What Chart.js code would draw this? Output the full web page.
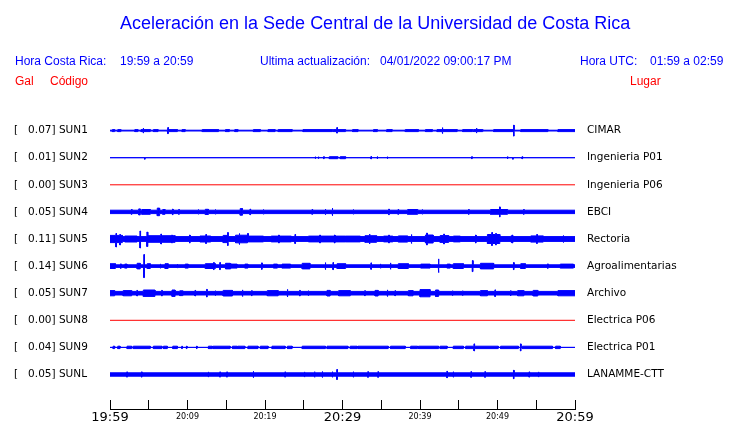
<!DOCTYPE html>
<html>
<head>
<meta charset="utf-8">
<script src="https://cdn.jsdelivr.net/npm/chart.js@4/dist/chart.umd.min.js"></script>
<style>
  body { margin: 0; background: #fff; }
  #wrap { position: relative; width: 740px; height: 423px; overflow: hidden; }
  #wrap canvas { position: absolute; left: 0; top: 0; }
  .t { position: absolute; white-space: pre; font-family: "Liberation Sans", Arial, sans-serif; font-size: 12px; line-height: 12px; color: #0000ff; }
  .red { color: #ff0000; }
  #title { font-size: 18px; line-height: 18px; left: 120px; top: 14px; }
</style>
</head>
<body>
<div id="wrap">
  <canvas id="chart" width="740" height="423"></canvas>
  <div class="t" id="title">Aceleración en la Sede Central de la Universidad de Costa Rica</div>
  <div class="t" style="left:15px;top:55px">Hora Costa Rica:</div>
  <div class="t" style="left:120px;top:55px">19:59 a 20:59</div>
  <div class="t" style="left:260px;top:55px">Ultima actualización:</div>
  <div class="t" style="left:380px;top:55px">04/01/2022 09:00:17 PM</div>
  <div class="t" style="left:580px;top:55px">Hora UTC:</div>
  <div class="t" style="left:650px;top:55px">01:59 a 02:59</div>
  <div class="t red" style="left:15px;top:75px">Gal</div>
  <div class="t red" style="left:50px;top:75px">Código</div>
  <div class="t red" style="left:630px;top:75px">Lugar</div>
</div>
<script>
// stations, top to bottom
const codes = ['SUN1', 'SUN2', 'SUN3', 'SUN4', 'SUN5', 'SUN6', 'SUN7', 'SUN8', 'SUN9', 'SUNL'];
const peakGal = [0.07, 0.01, 0.00, 0.05, 0.11, 0.14, 0.05, 0.00, 0.04, 0.05];
const places = ['CIMAR', 'Ingenieria P01', 'Ingenieria P06', 'EBCI', 'Rectoria',
  'Agroalimentarias', 'Archivo', 'Electrica P06', 'Electrica P01', 'LANAMME-CTT'];

// time axis, minutes after 19:59
const tickMinutes = [0, 5, 10, 15, 20, 25, 30, 35, 40, 45, 50, 55, 60];
const tickLabels = ['19:59', '', '20:09', '', '20:19', '', '20:29', '', '20:39', '', '20:49', '', '20:59'];

// trace envelopes: background level, bursts [from, to, amp], spikes [minute, up, down]
const baseAmp = [0.4, 0, 0, 1.7, 2.4, 1.3, 1.8, 0, 0, 1.7];

const sun1Bursts = [[0.3, 0.6, 1], [1.0, 1.4, 1], [3.2, 3.6, 1], [4.0, 5.2, 1], [5.6, 6.2, 1],
  [7.4, 8.7, 1], [9.3, 9.7, 1], [11.9, 14.0, 1], [14.9, 15.4, 1], [16.1, 16.5, 1],
  [18.5, 19.4, 1], [20.4, 21.3, 1], [21.7, 23.5, 1], [24.9, 28.7, 1], [28.8, 30.4, 1],
  [31.3, 32.0, 1], [34.0, 34.5, 1], [35.7, 36.4, 1], [38.1, 39.8, 1], [40.7, 41.6, 1],
  [42.2, 44.8, 1], [45.5, 46.8, 1], [46.9, 48.1, 1], [49.5, 52.1, 1], [53.0, 56.5, 1],
  [57.8, 60, 1]];
const sun1Spikes = [[4.3, 2.5, 2.5], [7.5, 3, 3], [29.3, 3, 2.5], [42.9, 3, 3], [47.3, 2.5, 2.5], [52.1, 5.5, 5.5]];

const sun2Bursts = [[28.3, 29.4, 1], [29.7, 30.4, 1]];
const sun2Spikes = [[4.5, 0, 1.5], [26.5, 1, 1], [26.9, 1, 1], [27.6, 1, 1], [33.7, 1.2, 1.2],
  [34.5, 1.2, 1.2], [35.8, 1, 1], [46.7, 1, 1], [51.3, 1.2, 1.2], [52.0, 0, 1.5], [53.2, 1, 1]];

const sun4Bursts = [[3.7, 3.9, 3], [4.1, 5.2, 2.4], [6.1, 6.4, 3.8], [6.8, 7.1, 2.4], [12.3, 12.7, 2.6],
  [16.8, 17.1, 3.3], [38.4, 39.7, 2.4], [49.1, 51.3, 2.4]];
const sun4Spikes = [[2.8, 2.4, 2.4], [8.1, 2.8, 2.8], [8.9, 2.4, 2.4], [11.4, 2.4, 2.4], [13.6, 2.4, 2.4],
  [18.1, 2.8, 2.8], [19.8, 2.4, 2.4], [26.1, 2.4, 2.4], [27.8, 2.8, 2.8], [28.7, 3.8, 3.8], [31.4, 2.4, 2.4],
  [36.0, 2.8, 2.8], [37.2, 2.4, 2.4], [40.3, 2.4, 2.4], [46.3, 2.4, 2.4], [50.3, 5, 5], [53.4, 2.4, 2.4]];

const sun5Bursts = [[0, 1.6, 3.6], [1.9, 3.5, 3], [4.9, 8.4, 3.3], [11.6, 13.0, 3],
  [14.6, 15.2, 3.6], [16.2, 17.7, 3.8], [17.7, 19.8, 2.9], [20.8, 23.4, 2.9], [25.6, 30.4, 2.9],
  [30.4, 32.3, 2.9], [32.9, 34.4, 3.3], [35.3, 36.5, 2.9], [37.2, 38.4, 3.1], [40.7, 41.7, 4],
  [42.6, 43.7, 3.4], [44.3, 45.2, 2.9], [48.7, 50.3, 4.5], [51.7, 52.1, 2.9], [54.3, 55.9, 3.1]];
const sun5Spikes = [[0.8, 5.5, 8], [1.3, 4.5, 6], [3.9, 8, 9], [4.8, 7, 7.5], [6.6, 5, 5], [8.0, 4, 4],
  [10.3, 4, 4], [12.4, 4.5, 4.5], [15.2, 6.5, 6.5], [16.7, 5.5, 5.5], [17.8, 5.5, 3], [21.8, 4, 4],
  [23.9, 4.5, 4.5], [27.1, 4, 4], [29.0, 4, 4], [33.5, 5, 5], [36.0, 4, 4], [38.9, 4.5, 4.5],
  [40.9, 6, 6], [43.1, 5, 5], [47.2, 4, 4], [49.3, 6.5, 6.5], [49.8, 5.5, 6], [51.9, 4, 4],
  [55.1, 4.5, 4.5], [58.5, 3.5, 3.5]];

const sun6Bursts = [[0, 0.7, 2.4], [1.9, 2.2, 2], [3.5, 3.9, 2.8], [4.8, 5.2, 2.4], [7.1, 7.5, 2.4],
  [9.7, 10.1, 2], [12.3, 13.6, 2.4], [14.9, 15.5, 2.8], [15.6, 16.4, 2], [17.4, 17.8, 2],
  [21.1, 21.6, 2], [22.2, 23.3, 2], [24.8, 25.8, 2.8], [29.3, 30.4, 2.4], [37.2, 38.5, 2.4],
  [40.1, 41.3, 2], [43.5, 43.9, 2], [44.3, 45.6, 2.4], [47.8, 49.5, 2.8], [53.0, 53.6, 2.4],
  [58.1, 59.8, 2]];
const sun6Spikes = [[1.4, 2.2, 2.2], [4.4, 11.5, 11.5], [6.5, 2.2, 2.2], [8.7, 2, 2], [13.4, 3.5, 3.5],
  [14.2, 3.5, 3.5], [19.6, 3.2, 3.2], [27.8, 3.5, 3.5], [28.8, 3.5, 3.5], [33.7, 3.2, 3.2], [34.9, 2.2, 2.2],
  [36.2, 3.2, 3.2], [42.4, 7.2, 6.5], [46.8, 5.5, 5.5], [52.1, 3.5, 3.5], [56.5, 2.2, 2.2]];

const sun7Bursts = [[0, 0.6, 2.6], [1.7, 2.8, 2.6], [4.3, 5.8, 3.2], [8.0, 8.4, 3.2], [9.0, 9.4, 2.4],
  [14.6, 15.8, 2.8], [20.3, 21.7, 2.6], [28.0, 28.4, 2.8], [29.5, 31.0, 2.6], [34.2, 34.6, 2.8],
  [38.5, 39.1, 2.6], [40.0, 41.3, 3.6], [42.0, 42.4, 3.2], [47.8, 48.7, 2.6], [52.6, 53.4, 2.6],
  [54.6, 55.2, 2.8], [57.8, 60, 2.6]];
const sun7Spikes = [[3.5, 2.8, 2.8], [6.7, 2.8, 2.8], [11.0, 2.8, 2.8], [12.5, 3.8, 3.8], [13.6, 2.5, 2.5],
  [17.1, 3.3, 3.3], [18.3, 2.5, 2.5], [22.9, 3.8, 3.8], [24.5, 2.8, 2.8], [25.6, 2.5, 2.5], [32.9, 2.5, 2.5],
  [35.8, 3.3, 3.3], [36.8, 2.5, 2.5], [44.2, 2.5, 2.5], [45.5, 2.5, 2.5], [49.7, 3.3, 3.3], [51.7, 2.8, 2.8]];

const sun9Bursts = [[0.4, 0.6, 1.2], [1.0, 1.3, 1.2], [2.2, 2.8, 1.2], [3.0, 5.2, 1.2], [5.6, 6.7, 1.2],
  [6.9, 7.4, 1.2], [8.1, 8.7, 1.2], [12.7, 13.2, 1.2], [13.3, 15.5, 1.2], [15.8, 16.4, 1.2],
  [16.5, 17.4, 1.2], [17.8, 19.1, 1.2], [19.4, 20.4, 1.2], [20.9, 22.6, 1.2], [22.9, 23.5, 1.2],
  [24.8, 27.8, 1.2], [28.0, 30.7, 1.2], [31.0, 31.9, 1.2], [32.0, 35.9, 1.2], [36.2, 38.1, 1.2],
  [38.8, 39.7, 1.2], [39.8, 42.4, 1.2], [42.6, 43.5, 1.2], [44.3, 45.6, 1.2], [45.9, 50.1, 1.2],
  [50.4, 52.7, 1.2], [53.2, 57.1, 1.2], [57.5, 58.1, 1.2]];
const sun9Spikes = [[9.3, 1.2, 1.2], [9.9, 1.2, 1.2], [11.2, 1.2, 1.2], [47.0, 3.5, 3.5], [53.0, 3.5, 3.5]];

const sunlSpikes = [[2.2, 2.6, 2.6], [4.1, 2.6, 2.6], [12.7, 2.6, 2.6], [14.2, 2.6, 2.6], [15.1, 2.6, 2.6],
  [18.5, 3.2, 3.2], [22.6, 2.6, 2.6], [25.1, 2.6, 2.6], [26.4, 2.8, 2.8], [27.4, 3, 3], [28.7, 2.8, 2.8],
  [29.3, 5, 5], [31.4, 2.8, 2.8], [33.3, 2.8, 2.8], [34.6, 2.8, 2.8], [43.5, 3.2, 3.2], [44.3, 2.8, 2.8],
  [46.6, 2.8, 2.8], [48.4, 2.8, 2.8], [52.1, 4.2, 4.2], [54.1, 2.6, 2.6], [55.3, 2.6, 2.6]];

const traceBursts = [sun1Bursts, sun2Bursts, [], sun4Bursts, sun5Bursts, sun6Bursts, sun7Bursts, [], sun9Bursts, []];
const traceSpikes = [sun1Spikes, sun2Spikes, [], sun4Spikes, sun5Spikes, sun6Spikes, sun7Spikes, [], sun9Spikes, sunlSpikes];

// vertical layout of the traces (offset units)
const ROW_GAP = 27.1;
const Y_MAX = 258.5;
const Y_MIN = -34.5;
const SPIKE_W = 0.04;
const rowCenter = i => (codes.length - 1 - i) * ROW_GAP;

function envelope(center, base, bursts, spikes) {
  const ev = bursts.map(b => [b[0], b[1], b[2], b[2]])
    .concat(spikes.map(s => [s[0] - SPIKE_W, s[0] + SPIKE_W, s[1], s[2]]));
  let cuts = [0, 60];
  ev.forEach(e => cuts.push(Math.max(0, e[0]), Math.min(60, e[1])));
  cuts = [...new Set(cuts)].sort((a, b) => a - b);
  const upper = [], lower = [];
  for (let k = 0; k < cuts.length - 1; k++) {
    const a = cuts[k], b = cuts[k + 1];
    if (b - a < 1e-9) continue;
    const mid = (a + b) / 2;
    let up = base, dn = base;
    ev.forEach(e => {
      if (mid >= e[0] && mid < e[1]) { up = Math.max(up, e[2]); dn = Math.max(dn, e[3]); }
    });
    upper.push({x: a, y: center + up}, {x: b, y: center + up});
    lower.push({x: a, y: center - dn}, {x: b, y: center - dn});
  }
  return [upper, lower];
}

const datasets = [];
codes.forEach((code, i) => {
  const c = rowCenter(i);
  if (peakGal[i] === 0) {
    datasets.push({
      label: code, data: [{x: 0, y: c}, {x: 60, y: c}],
      borderColor: '#ff0000', borderWidth: 1, pointRadius: 0, fill: false
    });
    return;
  }
  const [upper, lower] = envelope(c, baseAmp[i], traceBursts[i], traceSpikes[i]);
  datasets.push({
    label: code, data: upper, borderColor: '#0000ff', borderWidth: 1,
    pointRadius: 0, fill: false
  });
  datasets.push({
    label: code + ' low', data: lower, borderColor: '#0000ff', borderWidth: 1,
    pointRadius: 0, fill: '-1', backgroundColor: '#0000ff'
  });
});

const rowOf = v => codes.length - 1 - Math.round(v / ROW_GAP);
const setRowTicks = scale => { scale.ticks = codes.map((_, i) => ({value: rowCenter(i)})); };
const labelFont = {family: 'DejaVu Sans', size: 10.5};
const noPad = s => { s.paddingTop = 0; s.paddingBottom = 0; s.paddingLeft = 0; s.paddingRight = 0; };

new Chart(document.getElementById('chart'), {
  type: 'line',
  data: {datasets: datasets},
  options: {
    responsive: false,
    animation: false,
    devicePixelRatio: 1,
    layout: {padding: {left: 14, top: 116, right: 0, bottom: 0}},
    plugins: {legend: {display: false}, tooltip: {enabled: false}, title: {display: false}},
    elements: {line: {tension: 0}},
    scales: {
      x: {
        type: 'linear', min: 0, max: 60,
        afterBuildTicks: s => { s.ticks = tickMinutes.map(v => ({value: v})); },
        afterFit: s => { s.height = 14; noPad(s); },
        grid: {drawOnChartArea: false, drawTicks: true, tickLength: -9, color: '#000', lineWidth: 1},
        border: {display: true, color: '#000', width: 1},
        ticks: {
          autoSkip: false, maxRotation: 0, padding: 11, color: '#000',
          font: ctx => (ctx.index % 6 === 0)
            ? {family: 'DejaVu Sans', size: 13, lineHeight: 1}
            : {family: 'DejaVu Sans', size: 8, lineHeight: 1.5},
          callback: (v, i) => tickLabels[i]
        }
      },
      y: {
        type: 'linear', position: 'left', min: Y_MIN, max: Y_MAX,
        afterBuildTicks: setRowTicks,
        afterFit: s => { s.width = 96; noPad(s); },
        grid: {display: false, drawTicks: false},
        border: {display: false},
        ticks: {
          autoSkip: false, crossAlign: 'far', padding: 0, color: '#000', font: labelFont,
          callback: v => '[   ' + peakGal[rowOf(v)].toFixed(2) + '] ' + codes[rowOf(v)]
        }
      },
      y2: {
        type: 'linear', position: 'right', min: Y_MIN, max: Y_MAX,
        afterBuildTicks: setRowTicks,
        afterFit: s => { s.width = 165; noPad(s); },
        grid: {display: false, drawTicks: false},
        border: {display: false},
        ticks: {
          autoSkip: false, padding: 12, color: '#000', font: labelFont,
          callback: v => places[rowOf(v)]
        }
      }
    }
  }
});
</script>
</body>
</html>
